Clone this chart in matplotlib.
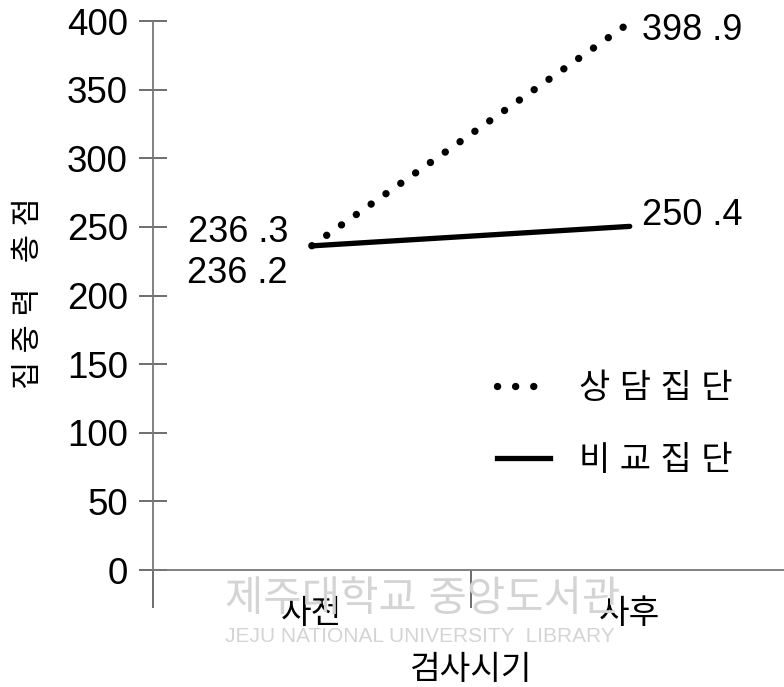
import matplotlib.pyplot as plt
from matplotlib.lines import Line2D

plt.rcParams['font.family'] = ['Liberation Sans', 'Noto Sans CJK KR', 'DejaVu Sans']

# 데이터
times = ['사전', '사후']
counsel = [236.3, 398.9]   # 상담집단
compare = [236.2, 250.4]   # 비교집단
counsel_lbl = ['236 .3', '398 .9']
compare_lbl = ['236 .2', '250 .4']
yticks = [0, 50, 100, 150, 200, 250, 300, 350, 400]

dot_style = (0, (0.01, 2.45))

fig = plt.figure(figsize=(7.84, 6.87), dpi=100)
ax = fig.add_axes([0.195, 0.1703, 0.811, 0.799])

x = list(range(len(times)))
ax.plot(x, counsel, color='black', lw=5.3, linestyle=dot_style,
        dash_capstyle='round')
ax.plot(x, compare, color='black', lw=3.8, solid_capstyle='round')

ax.set_xlim(-0.5, 1.5)
ax.set_ylim(0, 400)
ax.set_yticks(yticks)
ax.tick_params(axis='y', direction='inout', length=20, width=1.2, color='#555555',
               labelsize=26.5, pad=8)

ax.set_xticks([-0.5, 0.5, 1.5])
ax.set_xticklabels([])
ax.tick_params(axis='x', which='major', direction='out', length=27, width=1.2,
               color='#555555')
ax.set_xticks(x, minor=True)
ax.set_xticklabels(times, minor=True)
ax.tick_params(axis='x', which='minor', length=0, labelsize=24, pad=21)

for s in ['top', 'right']:
    ax.spines[s].set_visible(False)
for s in ['left', 'bottom']:
    ax.spines[s].set_color('#777777')
    ax.spines[s].set_linewidth(1.3)

# 값 라벨
ax.text(-0.075, counsel[0] + 10, counsel_lbl[0], fontsize=26, ha='right', va='center')
ax.text(-0.075, compare[0] - 20, compare_lbl[0], fontsize=26, ha='right', va='center')
ax.text(1.04, counsel[1] - 6, counsel_lbl[1], fontsize=26, ha='left', va='center')
ax.text(1.04, compare[1] + 8, compare_lbl[1], fontsize=26, ha='left', va='center')

ax.set_ylabel('집 중 력   총 점', fontsize=22)
ax.yaxis.set_label_coords(-0.172, 0.505)
ax.set_xlabel('검사시기', fontsize=24)
ax.xaxis.set_label_coords(0.5, -0.155)

handles = [Line2D([], [], color='black', lw=5.3, linestyle=dot_style,
                  dash_capstyle='round'),
           Line2D([], [], color='black', lw=3.8)]
ax.legend(handles, ['상 담 집 단', '비 교 집 단'], loc='center left',
          bbox_to_anchor=(0.634, 0.3805), bbox_transform=fig.transFigure,
          frameon=False, fontsize=24.5, borderpad=0, borderaxespad=0,
          handlelength=1.55, labelspacing=1.2, handletextpad=0.85)

# 워터마크
fig.text(0.287, 0.127, '제주대학교 중앙도서관', fontsize=30, color='#d4d4d4',
         ha='left', va='center', zorder=0)
fig.text(0.287, 0.074, 'JEJU NATIONAL UNIVERSITY  LIBRARY', fontsize=15,
         color='#d4d4d4', ha='left', va='center', zorder=0)

fig.savefig('out.png', dpi=100)
